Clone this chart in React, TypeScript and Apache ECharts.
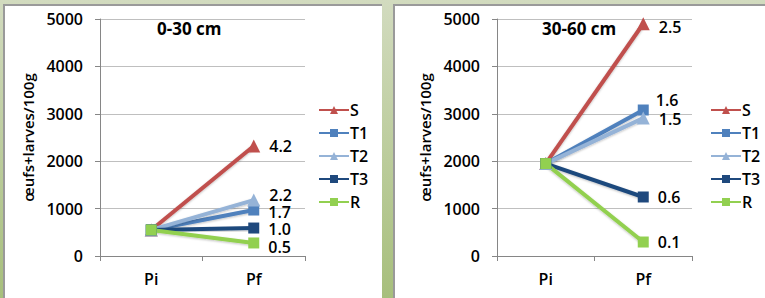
import React, { useEffect, useRef } from "react";
import * as echarts from "echarts";

const categories = ["Pi", "Pf"];
const seriesNames = ["S", "T1", "T2", "T3", "R"];
const colors = ["#C0504D", "#4F81BD", "#95B3D7", "#1F497D", "#92D050"];
const symbols = ["triangle", "rect", "triangle", "rect", "rect"];

const pi0_30 = [550, 550, 550, 550, 550];
const pf0_30 = [2320, 970, 1180, 590, 275];
const ratio0_30 = ["4.2", "1.7", "2.2", "1.0", "0.5"];

const pi30_60 = [1950, 1950, 1950, 1950, 1950];
const pf30_60 = [4900, 3080, 2910, 1245, 295];
const ratio30_60 = ["2.5", "1.6", "1.5", "0.6", "0.1"];

const titles = ["0-30 cm", "30-60 cm"];
const yName = "œufs+larves/100g";

const FONT = "'Open Sans', sans-serif";

export default function App() {
  const ref = useRef<HTMLDivElement>(null);
  useEffect(() => {
    document.body.style.margin = "0";
    const chart = echarts.init(ref.current!, null, { renderer: "svg" });
    const grids = [
      { left: 100, top: 19, width: 205, height: 237 },
      { left: 497, top: 19, width: 195, height: 237 },
    ];
    const panels = [
      { x: 3, y: 4, w: 379, h: 294 },
      { x: 393, y: 4, w: 372, h: 294 },
    ];
    const labelOffsets = [
      [[0, 0], [0, 2], [0, -5], [0, 1], [0, 4]],
      [[0, 3], [-2, -10], [0, 1], [0, 0], [0, 0]],
    ];
    const piSets = [pi0_30, pi30_60];
    const pfSets = [pf0_30, pf30_60];
    const ratioSets = [ratio0_30, ratio30_60];

    const xAxis: any[] = [];
    const yAxis: any[] = [];
    const series: any[] = [];
    const legend: any[] = [];
    const graphic: any[] = [
      {
        type: "rect",
        shape: { x: 0, y: 0, width: 765, height: 298 },
        style: {
          fill: new echarts.graphic.LinearGradient(0, 0, 0, 1, [
            { offset: 0, color: "#D2DBBF" },
            { offset: 1, color: "#A7BF7C" },
          ]),
        },
        z: -10,
      },
    ];
    panels.forEach((p) => {
      graphic.push({
        type: "rect",
        shape: { x: p.x, y: p.y, width: p.w, height: p.h },
        style: { fill: "#FFFFFF" },
        z: -9,
      });
      graphic.push({
        type: "polyline",
        shape: { points: [[p.x + 1, p.y + p.h], [p.x + 1, p.y + 1], [p.x + p.w, p.y + 1]] },
        style: { stroke: "#9A9A9A", lineWidth: 2, fill: "none" },
        z: -8,
      });
    });
    titles.forEach((t, i) => {
      graphic.push({
        type: "text",
        x: i === 0 ? 157 : 542,
        y: 28,
        style: {
          text: t,
          font: `bold 17px ${FONT}`,
          fill: "#000",
          textVerticalAlign: "middle",
        },
        z: 10,
      });
    });

    grids.forEach((g, gi) => {
      xAxis.push({
        type: "category",
        gridIndex: gi,
        data: categories,
        boundaryGap: true,
        axisLine: { show: true, lineStyle: { color: "#868686", width: 1 } },
        axisTick: { show: true, length: 5, lineStyle: { color: "#868686" } },
        axisLabel: { color: "#000", fontSize: 16, fontWeight: 600, fontFamily: FONT, margin: 15 },
        splitLine: { show: false },
      });
      yAxis.push({
        type: "value",
        gridIndex: gi,
        min: 0,
        max: 5000,
        interval: 1000,
        name: yName,
        nameLocation: "middle",
        nameRotate: 90,
        nameGap: 65,
        nameTextStyle: { color: "#000", fontSize: 15, fontWeight: 600, fontFamily: FONT },
        axisLine: { show: true, lineStyle: { color: "#868686", width: 1 } },
        axisTick: { show: true, length: 5, lineStyle: { color: "#868686" } },
        axisLabel: {
          color: "#000",
          fontSize: 16,
          fontWeight: 600,
          fontFamily: FONT,
          margin: 17,
          formatter: (v: number) => String(v),
        },
        splitLine: { show: true, lineStyle: { color: "#BFBFBF", width: 1 } },
      });
      legend.push({
        orient: "vertical",
        left: gi === 0 ? 313 : 705,
        top: 97,
        itemWidth: 30,
        itemHeight: 10,
        itemGap: 7,
        data: seriesNames,
        textStyle: {
          color: "#000",
          fontSize: 16,
          fontWeight: 600,
          fontFamily: FONT,
          lineHeight: 16,
          padding: [0, 0, 0, -4],
        },
      });
      seriesNames.forEach((name, si) => {
        series.push({
          type: "line",
          name,
          xAxisIndex: gi,
          yAxisIndex: gi,
          symbol: symbols[si],
          symbolSize: symbols[si] === "triangle" ? 13 : 11,
          color: colors[si],
          lineStyle: {
            width: 4,
            color: colors[si],
            shadowColor: "rgba(0,0,0,0.25)",
            shadowBlur: 2,
            shadowOffsetY: 1,
          },
          itemStyle: { color: colors[si], borderWidth: 0 },
          data: [
            { value: piSets[gi][si] },
            {
              value: pfSets[gi][si],
              label: {
                show: true,
                position: "right",
                distance: 9,
                formatter: ratioSets[gi][si],
                offset: labelOffsets[gi][si],
                color: "#000",
                fontSize: 16,
                fontWeight: 600,
                fontFamily: FONT,
                lineHeight: 13,
              },
            },
          ],
          emphasis: { disabled: true },
        });
      });
    });

    chart.setOption({
      animation: false,
      grid: grids.map((g) => ({ ...g, containLabel: false })),
      xAxis,
      yAxis,
      series,
      legend,
      graphic,
    });
    return () => chart.dispose();
  }, []);
  return (
    <div
      ref={ref}
      style={{ position: "absolute", left: 0, top: 0, width: 765, height: 298 }}
    />
  );
}
